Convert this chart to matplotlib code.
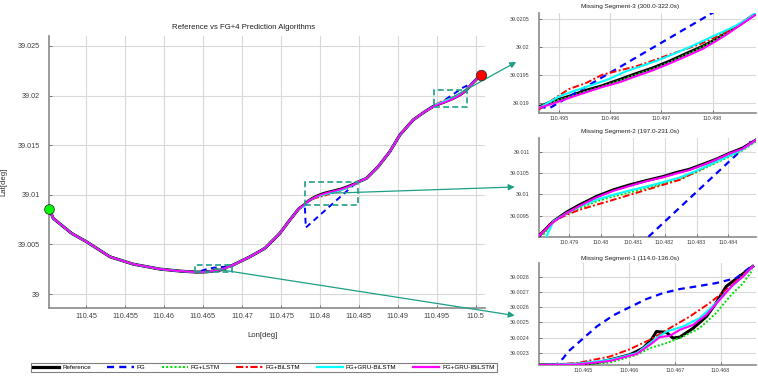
import matplotlib
matplotlib.use("Agg")
import matplotlib.pyplot as plt
from matplotlib.patches import Rectangle
from matplotlib.lines import Line2D

plt.rcParams['font.family'] = ['Liberation Sans', 'DejaVu Sans']

# ---------------- data ----------------
series_names = ["Reference", "FG", "FG+LSTM", "FG+BiLSTM", "FG+GRU-BiLSTM", "FG+GRU-IBiLSTM"]

# reference track outside the missing segments
base0_lon = [110.4453, 110.44581, 110.44817, 110.45009, 110.45308, 110.45606, 110.45949, 110.46205]
base0_lat = [39.00857, 39.00763, 39.00612, 39.00527, 39.00376, 39.00302, 39.00252, 39.00232]
base1_lon = [110.47103, 110.47295, 110.47487, 110.47615, 110.4773]
base1_lat = [39.00376, 39.00461, 39.00612, 39.00746, 39.0086]
base2_lon = [110.48598, 110.48747, 110.48897, 110.49026, 110.49196, 110.4935]
base2_lat = [39.01166, 39.01283, 39.01434, 39.01603, 39.01754, 39.0184]
base3_lon = [110.49962, 110.50064]
base3_lat = [39.02127, 39.02208]

start_point = (110.4453, 39.00857)
end_point = (110.50064, 39.02208)

# Missing Segment-1 (114.0-136.0s)
seg1 = {
    "Reference": ([110.46407, 110.46486, 110.4653, 110.46559, 110.46602, 110.46631, 110.46649, 110.4666, 110.46682,
                   110.46696, 110.46711, 110.4674, 110.46769, 110.4679, 110.46812, 110.46841, 110.4687],
                  [39.00222, 39.002225, 39.002236, 39.002254, 39.002287, 39.002331, 39.002386, 39.00244, 39.002434,
                   39.002397, 39.002403, 39.002462, 39.002539, 39.002627, 39.002736, 39.002802, 39.002868]),
    "FG": ([110.46407, 110.46443, 110.46457, 110.46468, 110.46493, 110.4653, 110.46566, 110.46602, 110.46638,
            110.46675, 110.46711, 110.46747, 110.4679, 110.46834, 110.46867],
           [39.00222, 39.002225, 39.002265, 39.002309, 39.002375, 39.002473, 39.002546, 39.0026, 39.002653,
            39.002693, 39.002719, 39.002736, 39.002758, 39.002791, 39.002868]),
    "FG+LSTM": ([110.46407, 110.46486, 110.46559, 110.46617, 110.46646, 110.46682, 110.46718, 110.46754, 110.4679,
                 110.4682, 110.46849, 110.4687],
                [39.00222, 39.00222, 39.002236, 39.002287, 39.002331, 39.002364, 39.002407, 39.002462, 39.002561,
                 39.002671, 39.002758, 39.002846]),
    "FG+BiLSTM": ([110.46407, 110.46486, 110.46559, 110.46602, 110.46646, 110.46689, 110.46733, 110.46776, 110.46812,
                   110.46849, 110.4687],
                  [39.00222, 39.002232, 39.002276, 39.002324, 39.002386, 39.002462, 39.002539, 39.002627, 39.002714,
                   39.002813, 39.002868]),
    "FG+GRU-BiLSTM": ([110.46407, 110.46486, 110.46559, 110.46617, 110.4666, 110.46682, 110.46718, 110.46754,
                       110.4679, 110.4682, 110.46849, 110.4687],
                      [39.00222, 39.002228, 39.002254, 39.002298, 39.002397, 39.00244, 39.002473, 39.002528,
                       39.002627, 39.002725, 39.002802, 39.002868]),
    "FG+GRU-IBiLSTM": ([110.46407, 110.46486, 110.46559, 110.46617, 110.46646, 110.46667, 110.46689, 110.46711,
                        110.4674, 110.46769, 110.46798, 110.46827, 110.46849, 110.4687],
                       [39.00222, 39.002223, 39.002247, 39.002293, 39.002353, 39.002403, 39.002412, 39.002451,
                        39.002484, 39.00255, 39.002649, 39.002747, 39.002802, 39.002868]),
}

# Missing Segment-2 (197.0-231.0s)
seg2_lon = [110.47807, 110.47851, 110.47893, 110.47934, 110.47986, 110.48039, 110.48091, 110.48143, 110.48195,
            110.48236, 110.48278, 110.4832, 110.48361, 110.48403, 110.48445, 110.48486]
seg2_lon_b = [110.47807, 110.47851, 110.47893, 110.47934, 110.47986, 110.48039, 110.48091, 110.48143, 110.48195,
              110.48247, 110.48299, 110.48351, 110.48403, 110.48445, 110.48486]
seg2 = {
    "Reference": (seg2_lon,
                  [39.009031, 39.009367, 39.009586, 39.009758, 39.009953, 39.010109, 39.010227, 39.010328, 39.010422,
                   39.010516, 39.010594, 39.010711, 39.010828, 39.010969, 39.011094, 39.011281]),
    "FG": ([110.47807, 110.4782, 110.4847],
           [39.00903, 39.0067, 39.01125]),
    "FG+LSTM": ([110.4782] + seg2_lon_b[1:],
                [39.009055, 39.009367, 39.009539, 39.00968, 39.009836, 39.009953, 39.010047, 39.010148, 39.01025,
                 39.010367, 39.010523, 39.010711, 39.010891, 39.011039, 39.01125]),
    "FG+BiLSTM": (seg2_lon_b,
                  [39.009031, 39.009367, 39.009523, 39.009641, 39.009758, 39.009875, 39.009992, 39.010109, 39.010227,
                   39.010344, 39.010539, 39.010734, 39.01093, 39.011078, 39.011281]),
    "FG+GRU-BiLSTM": ([110.4783] + seg2_lon_b[1:],
                      [39.009016, 39.009367, 39.009563, 39.009719, 39.009875, 39.009992, 39.010094, 39.010187,
                       39.010289, 39.010398, 39.010555, 39.010734, 39.010914, 39.011063, 39.011281]),
    "FG+GRU-IBiLSTM": (seg2_lon,
                       [39.009031, 39.009352, 39.009563, 39.009734, 39.00993, 39.010086, 39.010203, 39.010313,
                        39.010406, 39.010492, 39.010578, 39.010695, 39.01082, 39.010961, 39.011078, 39.011281]),
}

# Missing Segment-3 (300.0-322.0s)
seg3_lon = [110.4946, 110.49487, 110.49519, 110.49552, 110.49584, 110.49617, 110.49649, 110.49682, 110.49714,
            110.49747, 110.49779, 110.49805, 110.49831, 110.49857, 110.49883]
seg3 = {
    "Reference": (seg3_lon,
                  [39.01893, 39.01903, 39.019119, 39.019225, 39.019308, 39.019414, 39.01952, 39.019621, 39.019739,
                   39.019875, 39.020004, 39.020123, 39.02027, 39.020418, 39.020583]),
    "FG": ([110.4946, 110.49481, 110.4984],
           [39.01893, 39.01891, 39.02082]),
    "FG+LSTM": (seg3_lon,
                [39.018924, 39.019024, 39.019107, 39.019207, 39.019296, 39.019396, 39.019503, 39.019603, 39.019721,
                 39.019857, 39.019993, 39.020123, 39.02027, 39.020418, 39.020583]),
    "FG+BiLSTM": (seg3_lon,
                  [39.018882, 39.01906, 39.019249, 39.019355, 39.019503, 39.019579, 39.01965, 39.019751, 39.019857,
                   39.019957, 39.020064, 39.02017, 39.020288, 39.02043, 39.020583]),
    "FG+GRU-BiLSTM": ([110.4946, 110.495, 110.49532, 110.49565, 110.49597, 110.4963, 110.49662, 110.49695,
                       110.49727, 110.4976, 110.49792, 110.49818, 110.49844, 110.4987, 110.49883],
                      [39.018912, 39.019119, 39.019225, 39.019325, 39.019426, 39.019562, 39.019662, 39.019768,
                       39.019886, 39.020016, 39.020152, 39.020259, 39.020371, 39.020507, 39.020595]),
    "FG+GRU-IBiLSTM": (seg3_lon,
                       [39.018912, 39.018989, 39.019089, 39.01919, 39.019284, 39.019367, 39.019473, 39.019579,
                        39.019697, 39.019827, 39.019957, 39.020093, 39.020241, 39.020406, 39.020566]),
}

# zoom windows (lon0, lon1, lat0, lat1)
win1 = (110.46404, 110.46878, 39.00222, 39.00289)
win2 = (110.47806, 110.48488, 39.00900, 39.01133)
win3 = (110.49460, 110.49886, 39.01882, 39.02060)

main_xticks = [110.45, 110.455, 110.46, 110.465, 110.47, 110.475, 110.48, 110.485, 110.49, 110.495, 110.5]
main_xlabels = ["110.45", "110.455", "110.46", "110.465", "110.47", "110.475", "110.48", "110.485", "110.49", "110.495", "110.5"]
main_yticks = [39.0, 39.005, 39.01, 39.015, 39.02, 39.025]
main_ylabels = ["39", "39.005", "39.01", "39.015", "39.02", "39.025"]

in1_xticks = [110.465, 110.466, 110.467, 110.468]
in1_yticks = [39.0023, 39.0024, 39.0025, 39.0026, 39.0027, 39.0028]
in2_xticks = [110.479, 110.48, 110.481, 110.482, 110.483, 110.484]
in2_yticks = [39.0095, 39.01, 39.0105, 39.011]
in3_xticks = [110.495, 110.496, 110.497, 110.498]
in3_yticks = [39.019, 39.0195, 39.02, 39.0205]

# ---------------- styles ----------------
styles = {
    "Reference": dict(color="black", lw=2.0, ls="-"),
    "FG": dict(color="#0000ff", lw=1.4, ls=(0, (3.0, 2.2))),
    "FG+LSTM": dict(color="#00e000", lw=1.2, ls=(0, (1, 1))),
    "FG+BiLSTM": dict(color="#ff0000", lw=1.2, ls=(0, (3.5, 1.2, 1, 1.2))),
    "FG+GRU-BiLSTM": dict(color="#00ffff", lw=1.3, ls="-"),
    "FG+GRU-IBiLSTM": dict(color="#ff00ff", lw=1.3, ls="-"),
}
teal = "#1e9e86"
tick_col = "#404040"
grid_col = "#d9d9d9"

fig = plt.figure(figsize=(7.58, 3.77), dpi=100)
fig.patch.set_facecolor("white")


def style_axes(ax, fs, xpad, ypad):
    ax.grid(True, color=grid_col, lw=0.8)
    ax.set_axisbelow(True)
    for s in ("top", "right"):
        ax.spines[s].set_visible(False)
    for s in ("left", "bottom"):
        ax.spines[s].set_color("#8a8a8a")
        ax.spines[s].set_linewidth(1.2)
    ax.tick_params(axis="both", direction="in", length=2.5, width=0.6, color="#606060",
                   labelsize=fs, labelcolor=tick_col)
    ax.tick_params(axis="x", pad=xpad)
    ax.tick_params(axis="y", pad=ypad)


# ---------------- main axes ----------------
ax = fig.add_axes([0.065, 0.183, 0.575, 0.7215])
style_axes(ax, 5.2, 3.5, 6.5)

for name in series_names:
    lon = (base0_lon + seg1[name][0] + base1_lon + seg2[name][0] + base2_lon + seg3[name][0] + base3_lon)
    lat = (base0_lat + seg1[name][1] + base1_lat + seg2[name][1] + base2_lat + seg3[name][1] + base3_lat)
    st = dict(styles[name])
    if name == "Reference":
        st["lw"] = 2.2
    ax.plot(lon, lat, color=st["color"], lw=st["lw"], ls=st["ls"], zorder=3)

ax.plot([start_point[0]], [start_point[1]], "o", ms=7, mfc="#00ff00", mec="#333333", mew=0.6, zorder=6, clip_on=False)
ax.plot([end_point[0]], [end_point[1]], "o", ms=7.5, mfc="#ff0000", mec="#333333", mew=0.6, zorder=6, clip_on=False)

ax.set_xlim(110.4453, 110.5012)
ax.set_ylim(38.9986, 39.026)
ax.set_xticks(main_xticks)
ax.set_xticklabels(main_xlabels)
ax.set_yticks(main_yticks)
ax.set_yticklabels(main_ylabels)
ax.text(0.445, 1.033, "Reference vs FG+4 Prediction Algorithms", transform=ax.transAxes,
        ha="center", va="center", fontsize=5.6, color="#202020")
ax.set_xlabel("Lon[deg]", fontsize=5.6, color="#303030")
ax.xaxis.set_label_coords(0.489, -0.088)
ax.set_ylabel("Lat[deg]", fontsize=5.6, color="#303030")
ax.yaxis.set_label_coords(-0.096, 0.463)

# zoom rectangles and arrows
arrow_ends = [(0.679, 0.163), (0.679, 0.504), (0.681, 0.8355)]
for win, end in zip([win1, win2, win3], arrow_ends):
    x0, x1, y0, y1 = win
    ax.add_patch(Rectangle((x0, y0), x1 - x0, y1 - y0, fill=False, ec=teal, lw=1.2,
                           ls=(0, (3.5, 2.0)), zorder=5))
    cx, cy = (x0 + x1) / 2, (y0 + y1) / 2
    ax.annotate("", xy=end, xycoords="figure fraction", xytext=(cx, cy), textcoords="data",
                arrowprops=dict(arrowstyle="-|>", color=teal, lw=0.9, mutation_scale=9,
                                shrinkA=0, shrinkB=0), zorder=4)

# ---------------- insets ----------------
inset_specs = [
    ([0.711, 0.700, 0.287, 0.265], seg3, win3, in3_xticks, in3_yticks, "Missing Segment-3 (300.0-322.0s)", 1.065),
    ([0.711, 0.3714, 0.287, 0.2626], seg2, win2, in2_xticks, in2_yticks, "Missing Segment-2 (197.0-231.0s)", 1.065),
    ([0.711, 0.0318, 0.287, 0.2706], seg1, win1, in1_xticks, in1_yticks, "Missing Segment-1 (114.0-136.0s)", 1.04),
]
for rect, seg, win, xt, yt, title, ty in inset_specs:
    ia = fig.add_axes(rect)
    style_axes(ia, 3.9, 2.0, 6.5)
    for name in series_names:
        st = styles[name]
        ia.plot(seg[name][0], seg[name][1], color=st["color"], lw=st["lw"] + 0.2, ls=st["ls"], zorder=3)
    ia.set_xlim(win[0], win[1])
    ia.set_ylim(win[2], win[3])
    ia.set_xticks(xt)
    ia.set_xticklabels(["%g" % v for v in xt])
    ia.set_yticks(yt)
    ia.set_yticklabels(["%g" % v for v in yt])
    ia.text(0.417, ty, title, transform=ia.transAxes, ha="center", va="center", fontsize=4.6, color="#202020")

# ---------------- legend ----------------
handles = [Line2D([], [], color=styles[n]["color"], lw=styles[n]["lw"] + 0.3, ls=styles[n]["ls"]) for n in series_names]
leg = fig.legend(handles, series_names, loc="center", bbox_to_anchor=(0.348, 0.0255), ncol=6, fontsize=4.5,
                 frameon=True, fancybox=False, edgecolor="#606060", handlelength=4.2, columnspacing=2.6,
                 handletextpad=0.5, borderpad=0.35, borderaxespad=0)
leg.get_frame().set_linewidth(0.8)

fig.savefig("out.png", dpi=100, facecolor="white")
